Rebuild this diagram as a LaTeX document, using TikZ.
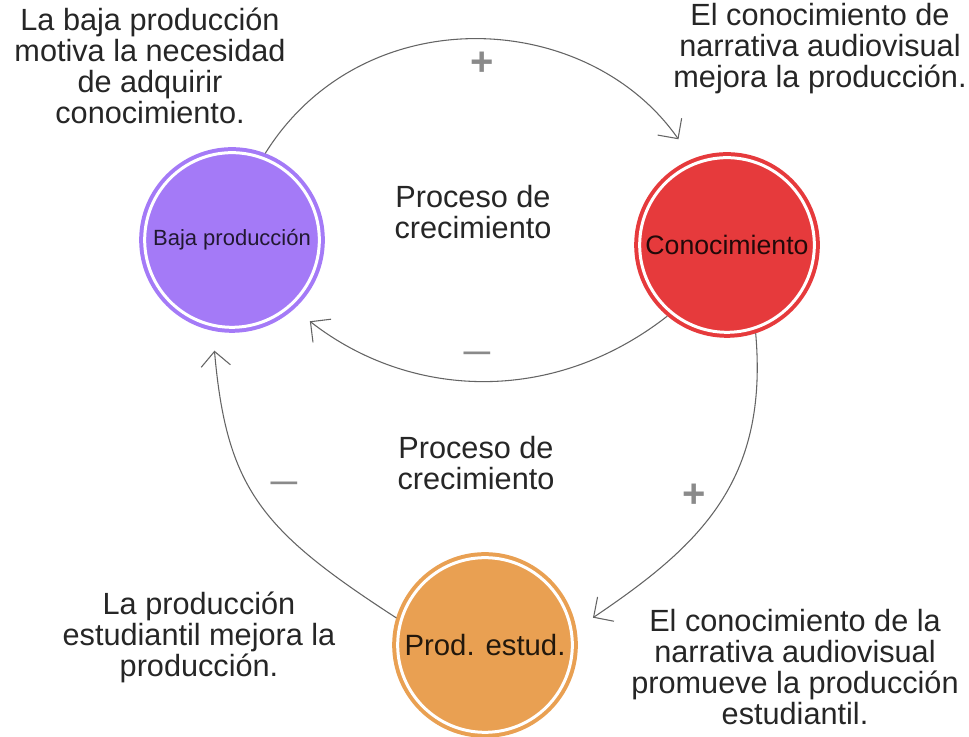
\documentclass[tikz,border=0pt]{standalone}
\usepackage{fontspec}
\setmainfont{Liberation Sans}
\usetikzlibrary{arrows.meta}
\definecolor{bajacol}{RGB}{164,122,247}
\definecolor{conocol}{RGB}{230,58,60}
\definecolor{prodcol}{RGB}{233,160,82}
\definecolor{linkcol}{RGB}{100,100,100}
\definecolor{signcol}{RGB}{138,138,138}
\begin{document}
\begin{tikzpicture}[x=0.75pt,y=0.75pt,
  loop/.style={circle,minimum size=131pt,inner sep=0pt,outer sep=4.1pt,line width=3pt,double=white,double distance=2.25pt},
  note/.style={align=center,text=black!85,font=\fontsize{23pt}{23.25pt}\selectfont},
  sign/.style={text=signcol,font=\bfseries\fontsize{30pt}{30pt}\selectfont},
  link/.style={draw=linkcol,line width=0.8pt,-{Straight Barb[length=11pt,width=22pt]},shorten >=15pt}]
\useasboundingbox[fill=white] (0,0) rectangle (969,737);

\node[loop,fill=bajacol,draw=bajacol,text=bajacol!20!black,font=\fontsize{16.5pt}{18pt}\selectfont] (B) at (232,497) {Baja producción};
\node[loop,fill=conocol,draw=conocol,text=conocol!15!black,font=\fontsize{20pt}{22pt}\selectfont] (C) at (727,492) {Conocimiento};
\node[loop,fill=prodcol,draw=prodcol,text=prodcol!15!black,font=\fontsize{22pt}{24pt}\selectfont] (P) at (485,92) {Prod. estud.};

\node[note] (nB) at (150,671) {La baja producción\\motiva la necesidad\\de adquirir\\conocimiento.};
\node[note] (nC) at (820,688) {El conocimiento de\\narrativa audiovisual\\mejora la producción.};
\node[note] (nP) at (795,70) {El conocimiento de la\\narrativa audiovisual\\promueve la producción\\estudiantil.};
\node[note] (nE) at (199,100) {La producción\\estudiantil mejora la\\producción.};
\node[note] (g1) at (473,525) {Proceso de\\crecimiento};
\node[note] (g2) at (476,274) {Proceso de\\crecimiento};

\node[sign] (s1) at (482,673) {+};
\node[sign,font=\bfseries\fontsize{20pt}{20pt}\selectfont] (s2) at (477,381) {—};
\node[sign] (s3) at (694,241) {+};
\node[sign,font=\bfseries\fontsize{20pt}{20pt}\selectfont] (s4) at (284,251) {—};

\draw[link,shorten >=18pt] (B.69) to[out=58,in=125,looseness=1.1] (C.112);
\draw[link] (C.230) to[out=218,in=322] (B.312);
\draw[link] (C.288) to[out=275,in=34,looseness=1.1] (P.10);
\draw[link] (P.163) to[out=147,in=275,looseness=1.2] (B.258);
\end{tikzpicture}
\end{document}
